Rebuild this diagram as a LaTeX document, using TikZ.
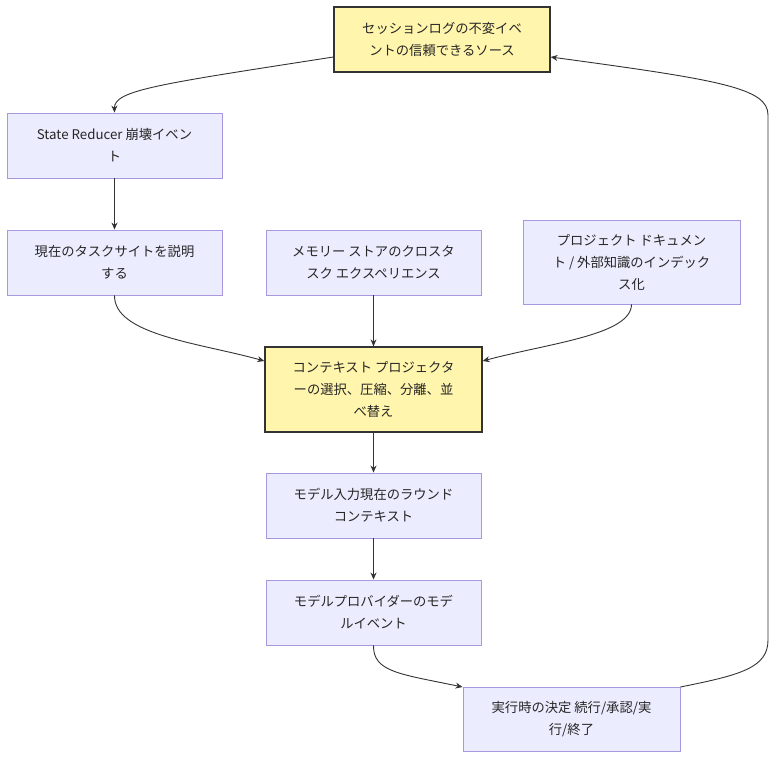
\documentclass[tikz,border=0pt]{standalone}
\usepackage{fontspec}
\setmainfont{Noto Sans CJK JP}
\usetikzlibrary{arrows.meta}
\definecolor{boxfill}{HTML}{ECECFF}
\definecolor{boxline}{HTML}{A898E0}
\definecolor{hifill}{HTML}{FFF5AD}
\definecolor{hiline}{HTML}{333333}
\definecolor{edge}{HTML}{333333}
\tikzset{
  base/.style={rectangle, align=center, font=\fontsize{13.3pt}{22pt}\selectfont, text=black!85, inner sep=0pt, line width=0.9pt},
  plain/.style={base, fill=boxfill, draw=boxline, minimum width=215pt, minimum height=65pt},
  hilite/.style={base, fill=hifill, draw=hiline, line width=1.3pt, minimum width=216pt, minimum height=65pt},
  conn/.style={draw=edge, line width=0.9pt, -{Stealth[length=7pt,width=6pt]}}
}
\begin{document}
\begin{tikzpicture}[x=1pt,y=-1pt]
\useasboundingbox (0,0) rectangle (784,767);
\node[hilite] (A) at (442,39.5) {セッションログの不変イベ\\ントの信頼できるソース};
\node[plain] (B) at (114.5,145.5) {State Reducer 崩壊イベン\\ト};
\node[plain] (C) at (114.5,262.5) {現在のタスクサイトを説明\\する};
\node[plain] (D) at (373.5,262.5) {メモリー ストアのクロスタ\\スク エクスペリエンス};
\node[plain, minimum width=217pt, minimum height=84pt] (E) at (631.5,262) {プロジェクト ドキュメン\\ト / 外部知識のインデック\\ス化};
\node[hilite, minimum width=217pt, minimum height=85pt] (F) at (373.5,389.5) {コンテキスト プロジェクタ\\ーの選択、圧縮、分離、並\\べ替え};
\node[plain] (G) at (373.5,505.5) {モデル入力現在のラウンド\\コンテキスト};
\node[plain] (H) at (373.5,612.5) {モデルプロバイダーのモデ\\ルイベント};
\node[plain, minimum width=217pt, minimum height=64pt] (I) at (571.5,719) {実行時の決定 続行/承認/実\\行/終了};

\draw[conn] (A.west |- 0,57) .. controls (160,84) and (114,90) .. (B.north);
\draw[conn] (B.south) -- (C.north);
\draw[conn] (C.south) .. controls (114,335) and (200,343) .. (F.west |- 0,361);
\draw[conn] (D.south) -- (F.north);
\draw[conn] (E.south) .. controls (631,335) and (550,343) .. (F.east |- 0,361);
\draw[conn] (F.south) -- (G.north);
\draw[conn] (G.south) -- (H.north);
\draw[conn] (H.south) .. controls (373,672) and (400,674) .. (I.west |- 0,687);
\draw[conn] (I.east |- 0,687) .. controls (740,675) and (768,668) .. (768,640) -- (768,115) .. controls (768,88) and (720,80) .. (A.east |- 0,57);
\end{tikzpicture}
\end{document}
